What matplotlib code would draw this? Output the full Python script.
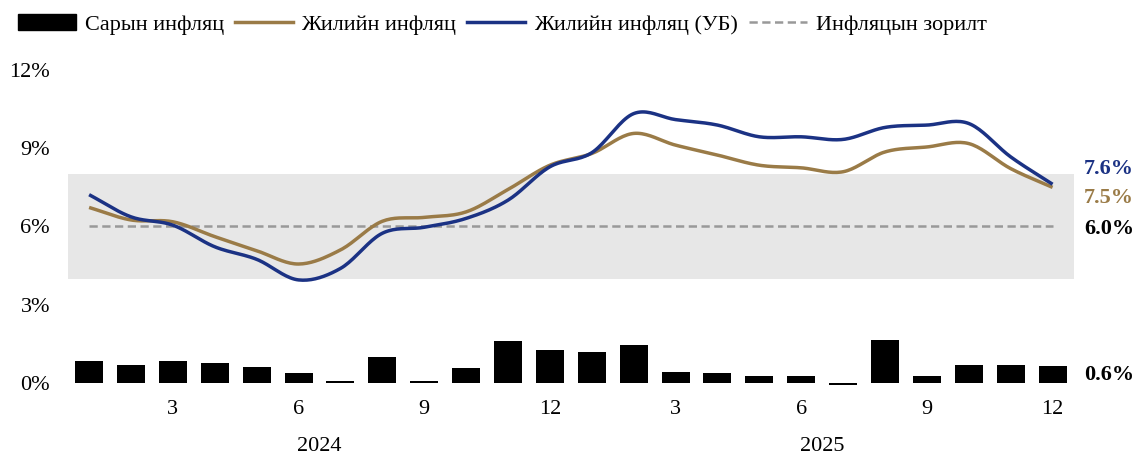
import numpy as np
import matplotlib.pyplot as plt
from matplotlib.patches import Patch
from matplotlib.lines import Line2D

plt.rcParams['font.family'] = ['Liberation Serif', 'DejaVu Serif']

# 2024.01 - 2025.12
months = list(range(1, 13)) * 2
years = ['2024', '2025']
monthly = [0.83, 0.69, 0.83, 0.78, 0.60, 0.38, 0.08, 1.00, 0.08, 0.56, 1.60, 1.28,
           1.17, 1.47, 0.42, 0.38, 0.26, 0.28, -0.08, 1.65, 0.27, 0.69, 0.69, 0.64]
annual = [6.73, 6.25, 6.18, 5.61, 5.07, 4.56, 5.10, 6.20, 6.35, 6.56, 7.42, 8.35,
          8.80, 9.57, 9.12, 8.74, 8.35, 8.25, 8.10, 8.86, 9.05, 9.18, 8.22, 7.50]
annual_ub = [7.22, 6.37, 6.05, 5.22, 4.74, 3.95, 4.39, 5.74, 5.97, 6.31, 7.01, 8.29,
             8.83, 10.33, 10.10, 9.89, 9.44, 9.44, 9.34, 9.80, 9.89, 9.95, 8.67, 7.62]
target = 6.0
band = (4.0, 8.0)

BROWN = '#9A7B47'
NAVY = '#1B3284'
GREY = '#999999'
FS = 16


def smooth(x, y, n=20):
    # catmull-rom, roughly like Excel's smoothed line
    x = np.asarray(x, float)
    y = np.asarray(y, float)
    px = np.concatenate([[2 * x[0] - x[1]], x, [2 * x[-1] - x[-2]]])
    py = np.concatenate([[2 * y[0] - y[1]], y, [2 * y[-1] - y[-2]]])
    xs, ys = [], []
    t = np.linspace(0, 1, n, endpoint=False)
    for i in range(1, len(px) - 2):
        for p, out in ((px, xs), (py, ys)):
            p0, p1, p2, p3 = p[i - 1], p[i], p[i + 1], p[i + 2]
            out.extend(0.5 * ((2 * p1) + (-p0 + p2) * t
                              + (2 * p0 - 5 * p1 + 4 * p2 - p3) * t ** 2
                              + (-p0 + 3 * p1 - 3 * p2 + p3) * t ** 3))
    xs.append(x[-1])
    ys.append(y[-1])
    return np.array(xs), np.array(ys)


x = np.arange(1, len(months) + 1)

fig = plt.figure(figsize=(11.36, 4.58), dpi=100)
ax = fig.add_axes([0.06, 0.164, 0.885, 0.683])

ax.axhspan(band[0], band[1], color='#E7E7E7', lw=0, zorder=0)
bars = ax.bar(x, monthly, width=0.67, color='black', zorder=2)
for b in bars:
    b.set_clip_on(False)  # the one negative month dips under 0
ax.plot(x, [target] * len(x), color=GREY, lw=1.8, ls=(0, (3.3, 1.8)), zorder=3)
sx, sy = smooth(x, annual)
ax.plot(sx, sy, color=BROWN, lw=2.5, zorder=4, solid_capstyle='butt')
sx, sy = smooth(x, annual_ub)
ax.plot(sx, sy, color=NAVY, lw=2.5, zorder=5, solid_capstyle='butt')

ax.set_xlim(0.5, len(x) + 0.5)
ax.set_ylim(0, 12)
ax.set_yticks([0, 3, 6, 9, 12])
ax.set_yticklabels([f'{v}%' for v in [0, 3, 6, 9, 12]], fontsize=FS)
ticks = [xi for xi, m in zip(x, months) if m % 3 == 0]
ax.set_xticks(ticks)
ax.set_xticklabels([str(months[t - 1]) for t in ticks], fontsize=FS)
ax.tick_params(axis='x', length=0, pad=12)
ax.tick_params(axis='y', length=0, pad=13)
for s in ax.spines.values():
    s.set_visible(False)

for i, yr in enumerate(years):
    ax.text(6.5 + 12 * i, -2.45, yr, ha='center', va='center', fontsize=FS)

lab_x = len(x) + 0.75
ax.text(lab_x, annual_ub[-1] + 0.6, f'{annual_ub[-1]:.1f}%', color=NAVY,
        fontsize=FS, fontweight='bold', va='center')
ax.text(lab_x, annual[-1] - 0.4, f'{annual[-1]:.1f}%', color=BROWN,
        fontsize=FS, fontweight='bold', va='center')
ax.text(lab_x, target - 0.1, f'{target:.1f}%', color='black',
        fontsize=FS, fontweight='bold', va='center')
ax.text(lab_x, 0.3, f'{monthly[-1]:.1f}%', color='black',
        fontsize=FS, fontweight='bold', va='center')

handles = [Patch(color='black'),
           Line2D([], [], color=BROWN, lw=2.5),
           Line2D([], [], color=NAVY, lw=2.5),
           Line2D([], [], color=GREY, lw=1.8, ls=(0, (3.3, 1.8)))]
labels = ['Сарын инфляц', 'Жилийн инфляц', 'Жилийн инфляц (УБ)', 'Инфляцын зорилт']
fig.legend(handles, labels, loc='upper left', bbox_to_anchor=(0.003, 1.0), ncol=4,
           frameon=False, fontsize=FS, handlelength=2.6, handletextpad=0.4,
           columnspacing=0.5, borderaxespad=0.25)

fig.savefig('out.png', dpi=100)
